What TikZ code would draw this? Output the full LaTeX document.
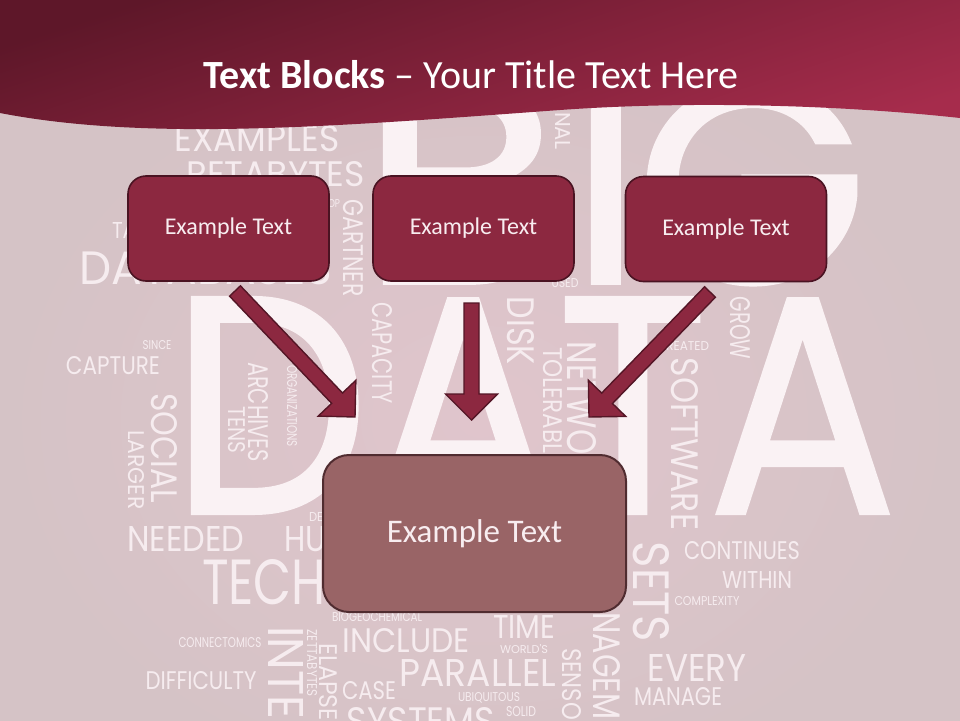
\documentclass[tikz,border=0pt]{standalone}
\usepackage{fontspec}
\setmainfont{Carlito}
\newfontfamily\cloudfont{Poppins}
\newfontfamily\bigfont[FakeBold=1.3]{Poppins}
\usetikzlibrary{calc}
\definecolor{bgA}{HTML}{E0C5CC}
\definecolor{bgB}{HTML}{D5C3C6}
\definecolor{hdA}{HTML}{5E1729}
\definecolor{hdB}{HTML}{A62C4C}
\definecolor{boxfill}{HTML}{8C2840}
\definecolor{boxline}{HTML}{4A1322}
\definecolor{botfill}{HTML}{996466}
\definecolor{botline}{HTML}{502C30}
\definecolor{wordc}{HTML}{F6ECEF}
\definecolor{bigc}{HTML}{FAF2F4}
\definecolor{boxtext}{HTML}{F8EDF0}
\newcounter{wc}
\newcommand\hw[5]{\stepcounter{wc}\node[wordnode] (word\arabic{wc}) at (#1,#2) {\resizebox{#3pt}{#4pt}{#5}};}
\newcommand\vw[5]{\stepcounter{wc}\node[wordnode,rotate=-90] (word\arabic{wc}) at (#1,#2) {\resizebox{#3pt}{#4pt}{#5}};}
\newcommand\blockarrow[3]{%
  \coordinate (#1h) at ($(#3)!26pt!(#2)$);
  \draw[arrowstyle] ($(#2)!7.5pt!90:(#3)$) -- ($(#1h)!7.5pt!90:(#3)$) -- ($(#1h)!26pt!90:(#3)$) -- (#3)
    -- ($(#1h)!26pt!-90:(#3)$) -- ($(#1h)!7.5pt!-90:(#3)$) -- ($(#2)!7.5pt!-90:(#3)$) -- cycle;}
\begin{document}
\begin{tikzpicture}[x=1pt,y=-1pt,
  wordnode/.style={inner sep=0pt, outer sep=0pt, text=wordc, font=\cloudfont},
  bignode/.style={inner sep=0pt, outer sep=0pt, text=bigc, font=\bigfont, anchor=base},
  topbox/.style={draw=boxline, line width=1.6pt, fill=boxfill, rounded corners=18pt,
    minimum width=201pt, minimum height=105pt, text=boxtext, font=\fontsize{24}{28}\selectfont},
  botbox/.style={draw=botline, line width=2pt, fill=botfill, rounded corners=26pt,
    minimum width=303pt, minimum height=157pt, text=boxtext, font=\fontsize{33}{38}\selectfont},
  arrowstyle/.style={draw=boxline!85!boxfill, line width=1.4pt, fill=boxfill, line join=miter}]
\useasboundingbox (0,0) rectangle (960,720);
% background
\fill[bgB] (0,0) rectangle (960,720);
\shade[inner color=bgA, outer color=bgB] (0,40) rectangle (960,800);
% big letters
\node[bignode] (bigB) at (460,283) {\resizebox{200pt}{200pt}{B}};
\node[bignode] (bigI) at (606,283) {\resizebox{!}{200pt}{I}};
\node[bignode] (bigG) at (752,283) {\resizebox{232pt}{200pt}{G}};
\node[bignode] (dataword) at (534,513) {\resizebox{725pt}{215pt}{DATA}};
% word cloud
\hw{257}{139}{165}{26}{EXAMPLES}
\hw{276}{174}{178}{25}{PETABYTES}
\hw{124}{230}{24}{16}{TA}
\hw{206}{268}{253}{33}{DATABASES}
\hw{334}{204}{12}{8}{OP}
\hw{157}{345}{29}{9}{SINCE}
\hw{113}{366}{94}{18}{CAPTURE}
\hw{565}{283}{27}{9}{USED}
\hw{683}{346}{52}{9}{CREATED}
\hw{742}{551}{116}{18}{CONTINUES}
\hw{757}{580}{70}{17}{WITHIN}
\hw{707}{601}{65}{9}{COMPLEXITY}
\hw{697}{668}{99}{27}{EVERY}
\hw{678}{697}{88}{18}{MANAGE}
\hw{524}{627}{62}{23}{TIME}
\hw{524}{649}{48}{9}{WORLD'S}
\hw{478}{673}{157}{27}{PARALLEL}
\hw{489}{698}{62}{9}{UBIQUITOUS}
\hw{521}{712}{30}{10}{SOLID}
\hw{421}{721}{148}{27}{SYSTEMS}
\hw{369}{691}{54}{18}{CASE}
\hw{406}{641}{127}{24}{INCLUDE}
\hw{377}{617}{90}{9}{BIOGEOCHEMICAL}
\hw{220}{643}{83}{10}{CONNECTOMICS}
\hw{201}{681}{111}{18}{DIFFICULTY}
\hw{186}{539}{117}{25}{NEEDED}
\hw{305}{539}{42}{25}{HU}
\hw{316}{517}{14}{9}{DE}
\hw{264}{582}{124}{45}{TECH}
\vw{563}{131}{38}{15}{NAL}
\vw{353}{248}{97}{20}{GARTNER}
\vw{382}{353}{101}{20}{CAPACITY}
\vw{258}{412}{100}{20}{ARCHIVES}
\vw{237}{430}{47}{17}{TENS}
\vw{292}{406}{82}{10}{ORGANIZATIONS}
\vw{164}{448}{110}{26}{SOCIAL}
\vw{136}{470}{79}{16}{LARGER}
\vw{521}{331}{68}{27}{DISK}
\vw{553}{406}{118}{19}{TOLERABLE}
\vw{582}{398}{113}{29}{NETWO}
\vw{740}{328}{63}{20}{GROW}
\vw{685}{444}{172}{27}{SOFTWARE}
\vw{651}{592}{100}{36}{SETS}
\vw{607}{666}{107}{27}{NAGEM}
\vw{572}{684}{72}{19}{SENSO}
\vw{286}{673}{93}{35}{INTE}
\vw{312}{663}{67}{10}{ZETTABYTES}
\vw{328}{682}{78}{18}{ELAPSE}
% header
\shade[top color=hdA, bottom color=hdB, shading angle=18]
  (0,0) -- (960,0) -- (960,118) .. controls (850,106) and (700,100) .. (560,110)
  .. controls (340,126) and (150,142) .. (0,113) -- cycle;
\node[text=white, font=\fontsize{40}{46}\selectfont] (title) at (471,75)
  {\textbf{Text Blocks} – Your Title Text Here};
% arrows
\coordinate (a1s) at (235,291); \coordinate (a1t) at (355,417);
\coordinate (a2s) at (471.5,303); \coordinate (a2t) at (471.5,420);
\coordinate (a3s) at (710,292); \coordinate (a3t) at (589,417);
\blockarrow{a1}{a1s}{a1t}
\blockarrow{a2}{a2s}{a2t}
\blockarrow{a3}{a3s}{a3t}
% boxes
\node[topbox] (b1) at (228.5,228.5) {Example Text};
\node[topbox] (b2) at (473.5,228.5) {Example Text};
\node[topbox] (b3) at (726,229) {Example Text};
\node[botbox] (b4) at (474.5,533.5) {Example Text};
\end{tikzpicture}
\end{document}
